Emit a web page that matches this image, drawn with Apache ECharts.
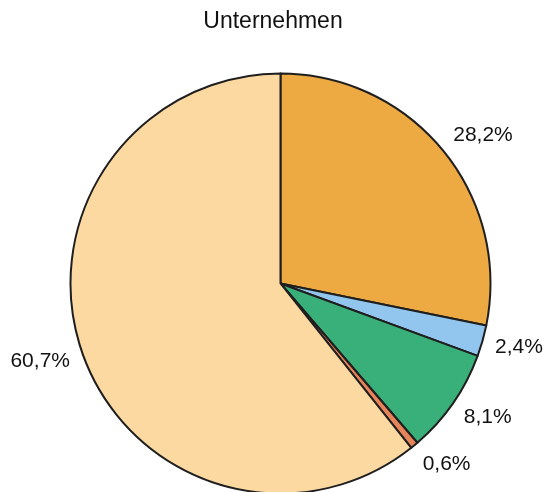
<!DOCTYPE html>
<html><head><meta charset="utf-8">
<script src="https://cdn.jsdelivr.net/npm/echarts@6/dist/echarts.min.js"></script>
<style>html,body{margin:0;padding:0;background:#fff}#c{width:552px;height:492px}</style>
</head><body><div id="c"></div>
<script>
const title = 'Unternehmen';
const categories = ['A', 'B', 'C', 'D', 'E'];
const values = [28.2, 2.4, 8.1, 0.6, 60.7];
const labels = ['28,2%', '2,4%', '8,1%', '0,6%', '60,7%'];
const colors = ['#EDA942', '#93C6EE', '#39AF79', '#E8845A', '#FDD9A2'];

const chart = echarts.init(document.getElementById('c'));
const font = '"Liberation Sans", Arial, sans-serif';
const CX = 280.5, CY = 283.5, R = 210, LEN = 13;
chart.setOption({
  animation: false,
  title: { text: title, left: 268, top: 5, textAlign: 'center',
    textStyle: { fontFamily: font, fontSize: 23, fontWeight: 'normal', color: '#111' } },
  series: [
    {
      type: 'pie', center: [CX, CY], radius: R, startAngle: 90, clockwise: true,
      silent: true, avoidLabelOverlap: false,
      label: { show: true, position: 'outside', alignTo: 'none', distanceToLabelLine: 0,
        formatter: p => labels[p.dataIndex], fontFamily: font, fontSize: 21, color: '#111' },
      labelLine: { show: false, length: LEN, length2: 0 },
      labelLayout: function (p) {
        const r = p.labelRect;
        const cy = r.y + r.height / 2;
        const dy = (cy - CY) / (R + LEN);
        return { y: cy + dy * 12 };
      },
      itemStyle: { borderColor: '#1f1f1f', borderWidth: 2 },
      data: categories.map((c, i) => ({ name: c, value: values[i], itemStyle: { color: colors[i] } }))
    }
  ]
});
</script></body></html>
